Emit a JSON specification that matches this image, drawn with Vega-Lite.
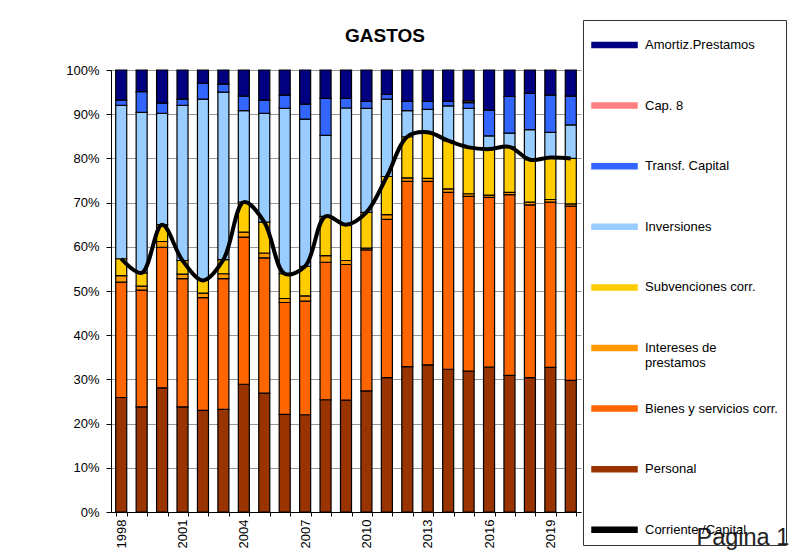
{
  "$schema": "https://vega.github.io/schema/vega-lite/v6.json",
  "width": 470,
  "height": 442,
  "autosize": {"type": "none"},
  "padding": {"left": 111, "top": 70, "right": 216, "bottom": 48},
  "background": "white",
  "config": {
    "font": "Liberation Sans",
    "view": {"stroke": null},
    "axis": {"labelFont": "Liberation Sans", "labelColor": "black", "domainColor": "black", "tickColor": "black", "labelFontSize": 13}
  },
  "title": {"text": "GASTOS", "fontSize": 19, "fontWeight": "bold", "font": "Liberation Sans", "color": "black", "anchor": "middle", "dx": 39, "offset": -26},
  "datasets": {
    "gastos": [
      {"a": "1998", "per": 25.9, "bys": 26.1, "int": 1.5, "sub": 3.8, "inv": 34.7, "tra": 1.2, "cap": 0, "amo": 6.8},
      {"a": "1999", "per": 23.8, "bys": 26.4, "int": 0.9, "sub": 3.0, "inv": 36.3, "tra": 4.7, "cap": 0, "amo": 4.9},
      {"a": "2000", "per": 28.1, "bys": 31.8, "int": 1.3, "sub": 3.8, "inv": 25.2, "tra": 2.3, "cap": 0, "amo": 7.5},
      {"a": "2001", "per": 23.8, "bys": 29.0, "int": 1.0, "sub": 3.1, "inv": 35.1, "tra": 1.4, "cap": 0, "amo": 6.6},
      {"a": "2002", "per": 23.0, "bys": 25.5, "int": 1.0, "sub": 2.9, "inv": 41.0, "tra": 3.6, "cap": 0, "amo": 3.0},
      {"a": "2003", "per": 23.2, "bys": 29.6, "int": 1.1, "sub": 3.2, "inv": 37.9, "tra": 1.8, "cap": 0, "amo": 3.2},
      {"a": "2004", "per": 28.9, "bys": 33.3, "int": 1.1, "sub": 6.8, "inv": 20.7, "tra": 3.3, "cap": 0, "amo": 5.9},
      {"a": "2005", "per": 26.9, "bys": 30.6, "int": 1.1, "sub": 7.0, "inv": 24.6, "tra": 3.0, "cap": 0, "amo": 6.8},
      {"a": "2006", "per": 22.1, "bys": 25.3, "int": 0.9, "sub": 5.6, "inv": 37.4, "tra": 3.0, "cap": 0, "amo": 5.7},
      {"a": "2007", "per": 22.0, "bys": 25.7, "int": 1.2, "sub": 6.7, "inv": 33.3, "tra": 3.4, "cap": 0, "amo": 7.7},
      {"a": "2008", "per": 25.4, "bys": 31.1, "int": 1.5, "sub": 8.9, "inv": 18.3, "tra": 8.4, "cap": 0, "amo": 6.4},
      {"a": "2009", "per": 25.3, "bys": 30.7, "int": 0.9, "sub": 8.1, "inv": 26.4, "tra": 2.2, "cap": 0, "amo": 6.4},
      {"a": "2010", "per": 27.4, "bys": 31.9, "int": 0.4, "sub": 8.1, "inv": 23.5, "tra": 1.6, "cap": 0, "amo": 7.1},
      {"a": "2011", "per": 30.4, "bys": 35.8, "int": 1.1, "sub": 8.6, "inv": 17.5, "tra": 1.1, "cap": 0, "amo": 5.5},
      {"a": "2012", "per": 32.9, "bys": 41.9, "int": 0.8, "sub": 9.3, "inv": 5.9, "tra": 2.1, "cap": 0, "amo": 7.1},
      {"a": "2013", "per": 33.3, "bys": 41.5, "int": 0.7, "sub": 10.4, "inv": 5.2, "tra": 1.8, "cap": 0, "amo": 7.1},
      {"a": "2014", "per": 32.3, "bys": 40.0, "int": 0.8, "sub": 10.9, "inv": 7.9, "tra": 1.0, "cap": 0, "amo": 7.1},
      {"a": "2015", "per": 31.9, "bys": 39.5, "int": 0.6, "sub": 10.5, "inv": 8.8, "tra": 1.3, "cap": 0.4, "amo": 7.0},
      {"a": "2016", "per": 32.8, "bys": 38.4, "int": 0.5, "sub": 10.4, "inv": 3.0, "tra": 5.8, "cap": 0, "amo": 9.1},
      {"a": "2017", "per": 30.9, "bys": 40.9, "int": 0.5, "sub": 10.3, "inv": 3.1, "tra": 8.3, "cap": 0, "amo": 6.0},
      {"a": "2018", "per": 30.4, "bys": 39.1, "int": 0.6, "sub": 9.6, "inv": 6.8, "tra": 8.2, "cap": 0, "amo": 5.3},
      {"a": "2019", "per": 32.7, "bys": 37.4, "int": 0.6, "sub": 9.5, "inv": 5.7, "tra": 8.4, "cap": 0, "amo": 5.7},
      {"a": "2020", "per": 29.8, "bys": 39.4, "int": 0.5, "sub": 10.3, "inv": 7.6, "tra": 6.5, "cap": 0, "amo": 5.9}
    ],
    "cats": [
      {"k": "per", "name": "Personal", "o": 1},
      {"k": "bys", "name": "Bienes y servicios corr.", "o": 2},
      {"k": "int", "name": "Intereses de prestamos", "o": 3},
      {"k": "sub", "name": "Subvenciones corr.", "o": 4},
      {"k": "inv", "name": "Inversiones", "o": 5},
      {"k": "tra", "name": "Transf. Capital", "o": 6},
      {"k": "cap", "name": "Cap. 8", "o": 7},
      {"k": "amo", "name": "Amortiz.Prestamos", "o": 8}
    ],
    "linea": [
      {"a": "1998", "v": 57.3}, {"a": "1999", "v": 54.1}, {"a": "2000", "v": 65.0}, {"a": "2001", "v": 56.9},
      {"a": "2002", "v": 52.4}, {"a": "2003", "v": 57.1}, {"a": "2004", "v": 70.1}, {"a": "2005", "v": 65.6},
      {"a": "2006", "v": 53.9}, {"a": "2007", "v": 55.6}, {"a": "2008", "v": 66.9}, {"a": "2009", "v": 65.0},
      {"a": "2010", "v": 67.8}, {"a": "2011", "v": 75.9}, {"a": "2012", "v": 84.9}, {"a": "2013", "v": 85.9},
      {"a": "2014", "v": 84.0}, {"a": "2015", "v": 82.5}, {"a": "2016", "v": 82.1}, {"a": "2017", "v": 82.6},
      {"a": "2018", "v": 79.7}, {"a": "2019", "v": 80.2}, {"a": "2020", "v": 80.0}
    ]
  },
  "encoding": {
    "x": {
      "field": "a", "type": "ordinal",
      "scale": {"paddingInner": 0.46, "paddingOuter": 0.23},
      "axis": {
        "title": "Pagina 1", "titleX": 585, "titleY": 32, "titleAlign": "left", "titleAnchor": "start", "titleBaseline": "alphabetic",
        "titleFontSize": 23.5, "titleFontWeight": "normal", "titleColor": "#222", "titleFont": "Liberation Sans",
        "labelAngle": -90, "labelExpr": "(toNumber(datum.value) - 1998) % 3 === 0 ? datum.label : ''",
        "tickBand": "extent", "tickSize": 4, "labelPadding": 3, "grid": false
      }
    }
  },
  "layer": [
    {
      "data": {"name": "gastos"},
      "transform": [
        {"fold": ["per", "bys", "int", "sub", "inv", "tra", "cap", "amo"], "as": ["k", "v"]},
        {"filter": "datum.v > 0"},
        {"lookup": "k", "from": {"data": {"name": "cats"}, "key": "k", "fields": ["name", "o"]}}
      ],
      "mark": {"type": "bar", "stroke": "black", "strokeWidth": 1.2},
      "encoding": {
        "y": {
          "field": "v", "type": "quantitative", "stack": "zero",
          "scale": {"domain": [0, 100], "nice": false},
          "axis": {"title": null, "values": [0, 10, 20, 30, 40, 50, 60, 70, 80, 90, 100], "labelExpr": "datum.value + '%'",
                   "grid": true, "gridColor": "#999", "tickSize": 5, "labelPadding": 7}
        },
        "order": {"field": "o", "type": "quantitative"},
        "color": {
          "field": "name", "type": "nominal",
          "scale": {
            "domain": ["Amortiz.Prestamos", "Cap. 8", "Transf. Capital", "Inversiones", "Subvenciones corr.", "Intereses de prestamos", "Bienes y servicios corr.", "Personal", "Corriente /Capital"],
            "range": ["#000080", "#FF8080", "#3366FF", "#99CCFF", "#FFCC00", "#FF9900", "#FF6600", "#993300", "#000000"]
          },
          "legend": {
            "title": null, "orient": "none", "legendX": 472, "legendY": -50,
            "strokeColor": "#333", "padding": 8,
            "symbolType": "M-1,-0.156L1.8125,-0.156L1.8125,0.156L-1,0.156Z", "symbolSize": 1024,
            "symbolStrokeColor": "black", "symbolStrokeWidth": 1.5, "symbolOpacity": 1,
            "labelFontSize": 13, "labelFont": "Liberation Sans", "labelColor": "black", "labelOffset": 20, "labelLimit": 200,
            "labelExpr": "datum.label == 'Intereses de prestamos' ? ['Intereses de', 'prestamos'] : datum.label",
            "gridAlign": "all", "rowPadding": 21.6
          }
        }
      }
    },
    {
      "data": {"name": "linea"},
      "mark": {"type": "line", "interpolate": "catmull-rom", "strokeWidth": 4},
      "encoding": {
        "y": {"field": "v", "type": "quantitative"},
        "color": {"datum": "Corriente /Capital"}
      }
    }
  ]
}
